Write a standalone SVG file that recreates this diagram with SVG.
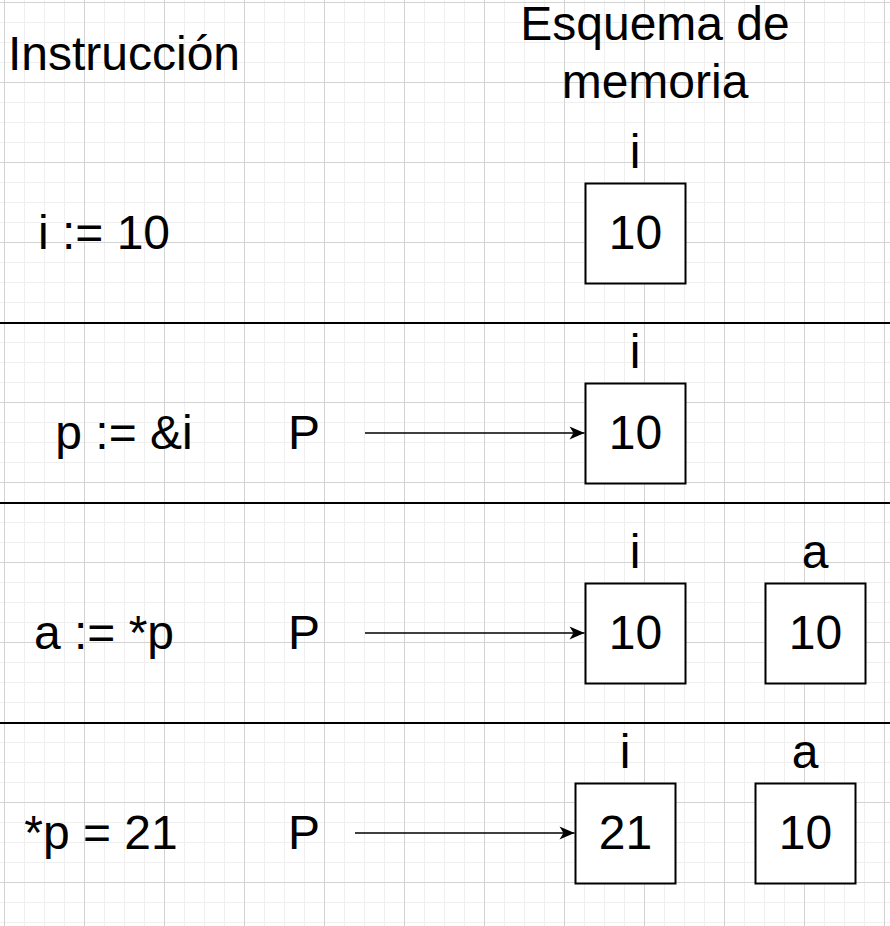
<svg xmlns="http://www.w3.org/2000/svg" width="890" height="926" viewBox="0 0 890 926">
<style>
text{font-family:"Liberation Sans",Arial,Helvetica,sans-serif;font-size:48px;fill:#000}
.c{text-anchor:middle}
.box rect{fill:#fff;stroke:#000;stroke-width:2}
.sep{stroke:#000;stroke-width:2}
.conn line{stroke:#000;stroke-width:1.5;fill:none}
</style>
<defs>
<pattern id="minor" patternUnits="userSpaceOnUse" x="4" y="2" width="20" height="20">
<path d="M0.5 0V20M0 0.5H20" stroke="#efefef" stroke-width="1" fill="none"/>
</pattern>
<pattern id="major" patternUnits="userSpaceOnUse" x="4" y="2" width="80" height="80">
<path d="M0.5 0V80M0 0.5H80" stroke="#d3d3d3" stroke-width="1" fill="none"/>
</pattern>
<marker id="arr" markerUnits="userSpaceOnUse" markerWidth="18" markerHeight="16" refX="16" refY="8" orient="auto">
<path d="M1,1.5 L16,8 L1,14.5 L5,8 Z" fill="#000"/>
</marker>
</defs>
<rect width="890" height="926" fill="#fff"/>
<rect width="890" height="926" fill="url(#minor)"/>
<rect width="890" height="926" fill="url(#major)"/>

<g id="headers">
<text class="c" x="124" y="70">Instrucción</text>
<text class="c" x="655" y="40">Esquema de</text>
<text class="c" x="655" y="98">memoria</text>
</g>

<g id="separators">
<line class="sep" x1="0" y1="323" x2="890" y2="323"/>
<line class="sep" x1="0" y1="503" x2="890" y2="503"/>
<line class="sep" x1="0" y1="723" x2="890" y2="723"/>
</g>

<g id="instructions">
<text class="c" x="104" y="249">i := 10</text>
<text class="c" x="124" y="449">p := &amp;i</text>
<text class="c" x="104" y="649">a := *p</text>
<text class="c" x="101" y="849">*p = 21</text>
</g>

<g id="pointers">
<text class="c" x="304" y="449">P</text>
<text class="c" x="304" y="649">P</text>
<text class="c" x="304" y="849">P</text>
</g>

<g id="row1-i" class="box">
<text class="c" x="635" y="168">i</text>
<rect x="585.5" y="183.5" width="100" height="100"/>
<text class="c" x="635.5" y="249">10</text>
</g>

<g id="row2-i" class="box">
<text class="c" x="635" y="368">i</text>
<rect x="585.5" y="383.5" width="100" height="100"/>
<text class="c" x="635.5" y="449">10</text>
</g>

<g id="row3-i" class="box">
<text class="c" x="635" y="568">i</text>
<rect x="585.5" y="583.5" width="100" height="100"/>
<text class="c" x="635.5" y="649">10</text>
</g>

<g id="row3-a" class="box">
<text class="c" x="815" y="568">a</text>
<rect x="765.5" y="583.5" width="100" height="100"/>
<text class="c" x="815.5" y="649">10</text>
</g>

<g id="row4-i" class="box">
<text class="c" x="625" y="768">i</text>
<rect x="575.5" y="783.5" width="100" height="100"/>
<text class="c" x="625.5" y="849">21</text>
</g>

<g id="row4-a" class="box">
<text class="c" x="805" y="768">a</text>
<rect x="755.5" y="783.5" width="100" height="100"/>
<text class="c" x="805.5" y="849">10</text>
</g>

<g id="connectors" class="conn">
<line x1="365" y1="433" x2="584.5" y2="433" marker-end="url(#arr)"/>
<line x1="365" y1="633" x2="584.5" y2="633" marker-end="url(#arr)"/>
<line x1="355" y1="833" x2="574.5" y2="833" marker-end="url(#arr)"/>
</g>
</svg>
